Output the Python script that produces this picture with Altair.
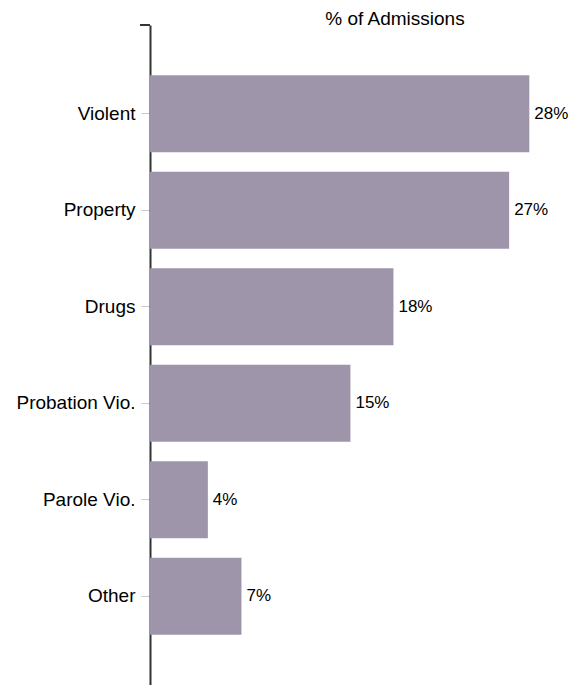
import altair as alt
import pandas as pd

categories = ["Violent", "Property", "Drugs", "Probation Vio.", "Parole Vio.", "Other"]
values = [28.2, 26.7, 18.1, 14.9, 4.3, 6.8]
labels = ["28%", "27%", "18%", "15%", "4%", "7%"]
title_text = "% of Admissions"

df = pd.DataFrame({"category": categories, "value": values, "label": labels})

FONT = "Liberation Sans"
BAR = "#9f95aa"
FS = 19

y = alt.Y(
    "category:N",
    sort=categories,
    scale=alt.Scale(paddingInner=0.2, paddingOuter=0.52),
    axis=alt.Axis(
        title=None,
        labelFontSize=FS,
        labelColor="#000",
        labelFont=FONT,
        tickColor="#cccccc",
        tickSize=9,
        labelPadding=6,
        domainColor="#333333",
        domainWidth=2,
        grid=False,
    ),
)
x = alt.X("value:Q", scale=alt.Scale(domain=[0, 31.15]), axis=None)

bars = alt.Chart(df).mark_bar(color=BAR).encode(x=x, y=y)
texts = alt.Chart(df).mark_text(
    align="left", baseline="middle", dx=5, fontSize=17, font=FONT, color="#000"
).encode(x=x, y=y, text="label:N")

one = pd.DataFrame({"t": [title_text]})
cap = alt.Chart(one).mark_rule(color="#333333", strokeWidth=2).encode(
    x=alt.value(-10), x2=alt.value(0), y=alt.value(0)
)
title = alt.Chart(one).mark_text(
    align="center", baseline="alphabetic", fontSize=FS, font=FONT, color="#000"
).encode(x=alt.value(245), y=alt.value(0), text="t:N")

chart = alt.layer(bars, texts, cap, title).properties(
    width=419,
    height=660,
    autosize=alt.AutoSizeParams(type="none"),
    padding={"left": 142, "top": 17, "right": 0, "bottom": 0},
).configure_view(stroke=None)

chart.save("out.html", embed_options={"renderer": "svg", "actions": False})
